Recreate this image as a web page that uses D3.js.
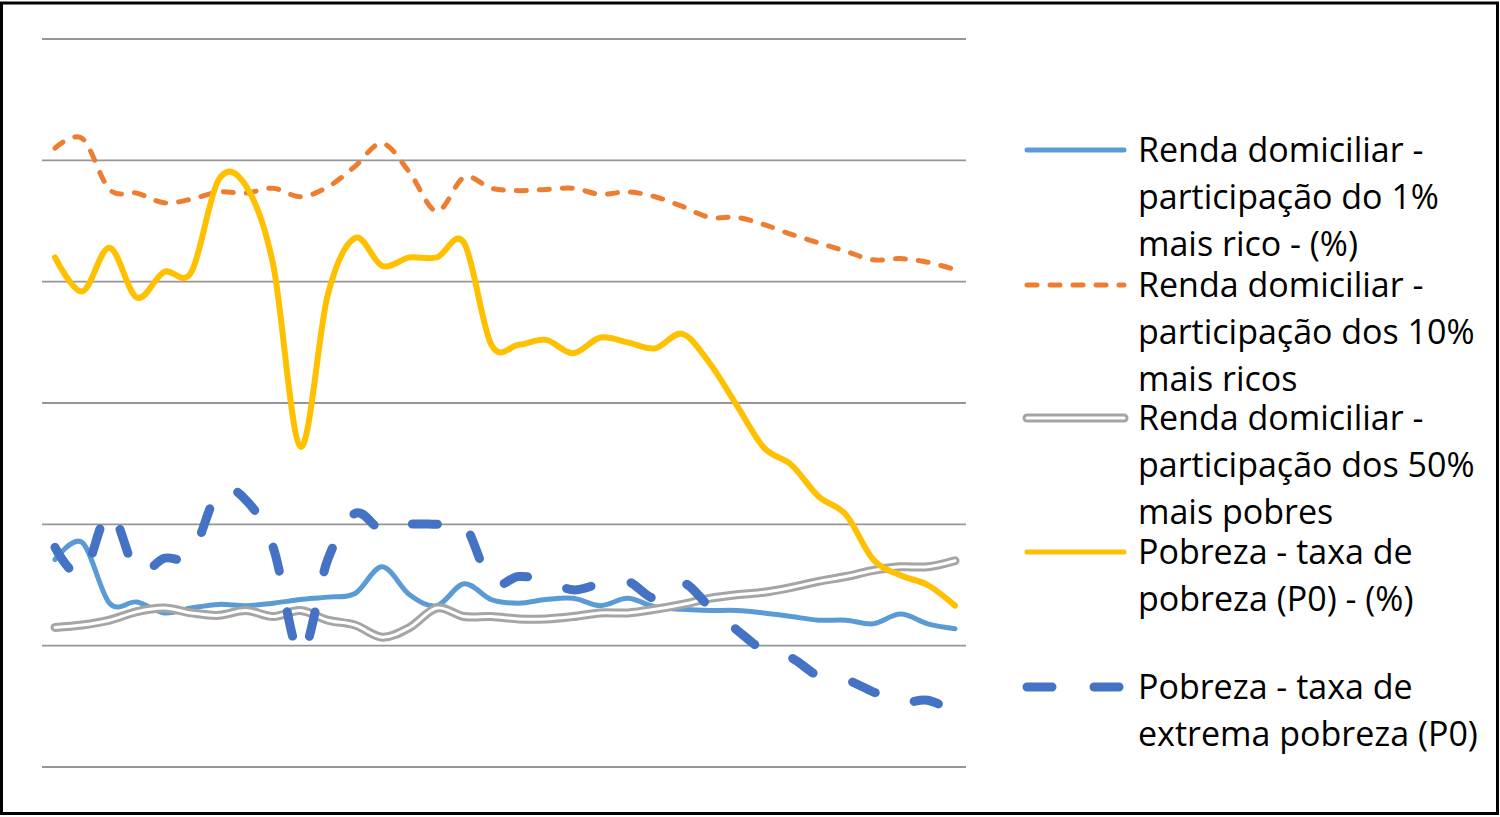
<!DOCTYPE html>
<html><head><meta charset="utf-8">
<script src="https://cdn.jsdelivr.net/npm/d3@7"></script>
<style>html,body{margin:0;padding:0;background:#fff;}svg{display:block;}</style>
</head><body>
<svg id="chart" width="1500" height="817"></svg>
<script>
const years = [1976,1977,1978,1979,1981,1982,1983,1984,1985,1986,1987,1988,1989,1990,1992,1993,1995,1996,1997,1998,1999,2001,2002,2003,2004,2005,2006,2007,2008,2009,2011,2012,2013,2014];
const top1 = [17.1,18.5,13.5,13.6,12.7,13.1,13.4,13.3,13.5,13.8,14.0,14.3,16.5,14.2,13.3,15.1,13.8,13.5,13.8,13.9,13.3,13.9,13.2,13.0,12.9,12.9,12.7,12.4,12.1,12.1,11.8,12.6,11.8,11.4];
const top10 = [51.0,51.8,47.6,47.3,46.5,46.8,47.4,47.3,47.7,47.0,47.8,49.5,51.4,49.0,45.8,48.6,47.7,47.5,47.6,47.7,47.2,47.4,47.0,46.2,45.3,45.3,44.7,43.9,43.2,42.5,41.8,41.9,41.6,41.0];
const bottom50 = [11.5,11.7,12.1,12.8,13.1,12.7,12.5,12.9,12.4,12.9,12.1,11.7,10.7,11.5,13.1,12.4,12.4,12.2,12.2,12.4,12.7,12.7,13.0,13.4,13.9,14.2,14.4,14.8,15.3,15.7,16.2,16.5,16.5,17.0];
const poverty = [42.0,39.2,42.8,38.7,40.8,40.8,48.4,47.9,41.4,26.4,38.9,43.6,41.3,42.0,42.0,43.2,34.8,34.8,35.2,34.1,35.4,35.0,34.5,35.7,33.3,29.8,26.3,24.9,22.3,20.8,17.1,15.8,15.0,13.3];
const extreme = [18.1,15.8,21.0,16.1,17.2,17.5,22.7,22.0,18.1,9.3,17.1,20.9,19.5,20.0,20.0,20.0,15.2,15.7,15.4,14.6,15.1,15.3,13.9,15.2,13.2,11.3,9.6,9.0,7.5,7.2,6.2,5.3,5.5,4.5];
const yTicks = [0,10,20,30,40,50,60];
const seriesNames = [
  ["Renda domiciliar -","participação do 1%","mais rico - (%)"],
  ["Renda domiciliar -","participação dos 10%","mais ricos"],
  ["Renda domiciliar -","participação dos 50%","mais pobres"],
  ["Pobreza - taxa de","pobreza (P0) - (%)"],
  ["Pobreza - taxa de","extrema pobreza (P0)"]
];

const svg = d3.select("#chart");
const x = d3.scalePoint().domain(years).range([55, 955]);
const y = d3.scaleLinear().domain([0, 60]).range([767, 39]);

// border
svg.append("rect").attr("x",1.5).attr("y",3).attr("width",1496).attr("height",810.5)
  .attr("fill","none").attr("stroke","#000").attr("stroke-width",3);

// gridlines
svg.append("g").selectAll("line").data(yTicks).join("line")
  .attr("x1",42).attr("x2",966)
  .attr("y1",d=>y(d)).attr("y2",d=>y(d))
  .attr("stroke","#969696").attr("stroke-width",1.8);

const line = d3.line().x((d,i)=>x(years[i])).y(d=>y(d)).curve(d3.curveCardinal.tension(0));

const styles = [
  {data: top1, color:"#5B9BD5", width:5, dash:null},
  {data: top10, color:"#ED7D31", width:5, dash:"10,13"},
  {data: bottom50, color:"#A5A5A5", width:9, dash:null, dbl:true},
  {data: poverty, color:"#FFC000", width:6, dash:null},
  {data: extreme, color:"#4472C4", width:9, dash:"25,41"}
];

const g = svg.append("g");
styles.forEach(s=>{
  const p = g.append("path").attr("d", line(s.data)).attr("fill","none")
    .attr("stroke", s.color).attr("stroke-width", s.width)
    .attr("stroke-linecap","round").attr("stroke-linejoin","round");
  if (s.dash) p.attr("stroke-dasharray", s.dash);
  if (s.dbl) {
    g.append("path").attr("d", line(s.data)).attr("fill","none")
      .attr("stroke","#fff").attr("stroke-width",3)
      .attr("stroke-linecap","round").attr("stroke-linejoin","round");
  }
});

// legend
const legendSymY = [150, 285, 418, 552, 687];
const legendFirstBaseline = [162, 297, 430, 564, 699];
const lineGap = 47;
const lg = svg.append("g");
styles.forEach((s,k)=>{
  const ly = legendSymY[k];
  const sym = lg.append("line").attr("x1",1027).attr("x2",1124).attr("y1",ly).attr("y2",ly)
    .attr("stroke",s.color).attr("stroke-width",s.dbl || k===4 ? 9 : 5)
    .attr("stroke-linecap", "round");
  if (s.dash) sym.attr("stroke-dasharray", k===4 ? "25,42" : "10,13");
  if (s.dbl) lg.append("line").attr("x1",1027).attr("x2",1124).attr("y1",ly).attr("y2",ly)
    .attr("stroke","#fff").attr("stroke-width",3).attr("stroke-linecap","round");
  const t = lg.append("text").attr("x",1138).attr("y",legendFirstBaseline[k])
    .attr("font-family","'Open Sans', sans-serif").attr("font-size",34).attr("fill","#000");
  seriesNames[k].forEach((txt,j)=>{
    t.append("tspan").attr("x",1138).attr("y",legendFirstBaseline[k] + j*lineGap).text(txt);
  });
});
</script>
</body></html>
